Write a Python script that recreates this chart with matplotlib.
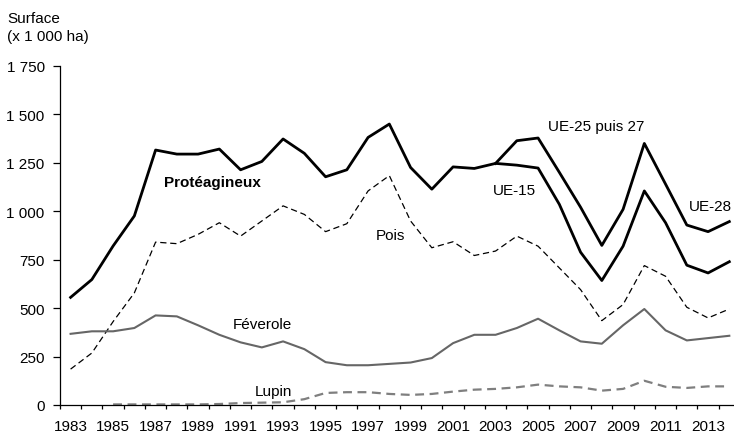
import matplotlib
matplotlib.use("Agg")
import matplotlib.pyplot as plt
import numpy as np

plt.rcParams['font.family'] = ['Liberation Sans', 'DejaVu Sans']

# --- data (x 1 000 ha) ---
years = list(range(1983, 2015))

proteagineux_ue15 = [555, 647, 820, 975, 1315, 1294, 1294, 1320, 1213, 1256,
                     1372, 1298, 1177, 1213, 1380, 1449, 1225, 1113, 1228, 1220,
                     1246, 1237, 1222, 1035, 788, 642, 819, 1104, 940, 721,
                     681, 739]
# UE-25 puis 27 puis 28, à partir de 2003
years_ue = list(range(2003, 2015))
proteagineux_ue = [1246, 1363, 1377, 1200, 1020, 823, 1009, 1349, 1139, 928,
                   894, 946]
pois = [185, 268, 430, 578, 840, 832, 880, 940, 871, 949,
        1027, 983, 894, 935, 1104, 1183, 949, 811, 842, 771,
        794, 871, 819, 707, 595, 435, 518, 719, 664, 504,
        449, 495]
feverole = [367, 380, 380, 397, 462, 457, 411, 362, 323, 297,
            328, 288, 221, 205, 205, 212, 219, 242, 319, 362,
            362, 397, 445, 385, 328, 316, 411, 495, 385, 333,
            345, 357]
years_lupin = list(range(1985, 2015))
lupin = [3, 3, 3, 3, 3, 5, 10, 12, 14, 30,
         62, 66, 66, 57, 52, 57, 69, 79, 83, 91,
         105, 96, 91, 74, 83, 125, 94, 88, 96, 96]

y_ticks = [0, 250, 500, 750, 1000, 1250, 1500, 1750]
y_tick_labels = ['0', '250', '500', '750', '1 000', '1 250', '1 500', '1 750']
x_labels = list(range(1983, 2014, 2))

fig = plt.figure(figsize=(7.34, 4.35), dpi=100)
ax = fig.add_axes([0.0817, 0.0667, 0.9264, 0.78])

ax.plot(years, pois, color='black', lw=0.9, ls=(0, (5, 3)), zorder=2)
ax.plot(years, feverole, color='#666666', lw=1.5, zorder=2)
ax.plot(years_lupin, lupin, color='#7f7f7f', lw=1.6, ls=(0, (4, 2.5)), zorder=2)
ax.plot(years, proteagineux_ue15, color='black', lw=2.0, zorder=3)
ax.plot(years_ue, proteagineux_ue, color='black', lw=2.0, zorder=3)

ax.set_xlim(1982.5, 2014.5)
ax.set_ylim(0, 1750)

for side in ('top', 'right'):
    ax.spines[side].set_visible(False)
for side in ('left', 'bottom'):
    ax.spines[side].set_linewidth(0.9)

ax.set_yticks(y_ticks)
ax.set_yticklabels(y_tick_labels, fontsize=11)
ax.tick_params(axis='y', direction='out', length=5, width=0.9, pad=6)

# ticks on category edges, labels at category centres
ax.set_xticks(np.arange(1982.5, 2015, 1))
ax.set_xticklabels([])
ax.tick_params(axis='x', which='major', direction='out', length=3, width=0.9)
ax.set_xticks(x_labels, minor=True)
ax.set_xticklabels([str(y) for y in x_labels], minor=True, fontsize=11)
ax.tick_params(axis='x', which='minor', length=0, pad=10)

fig.text(7 / 734, 1 - 23 / 435, "Surface", fontsize=11, va='baseline')
fig.text(7 / 734, 1 - 41 / 435, "(x 1 000 ha)", fontsize=11, va='baseline')

ax.text(1987.4, 1150, "Protéagineux", fontsize=11, fontweight='bold', va='center')
ax.text(1997.36, 878, "Pois", fontsize=11, va='center')
ax.text(1990.64, 418, "Féverole", fontsize=11, va='center')
ax.text(1991.67, 72, "Lupin", fontsize=11, va='center')
ax.text(2005.45, 1439, "UE-25 puis 27", fontsize=11, va='center')
ax.text(2002.85, 1110, "UE-15", fontsize=11, va='center')
ax.text(2012.1, 1028, "UE-28", fontsize=11, va='center')

fig.savefig("out.png", dpi=100)
